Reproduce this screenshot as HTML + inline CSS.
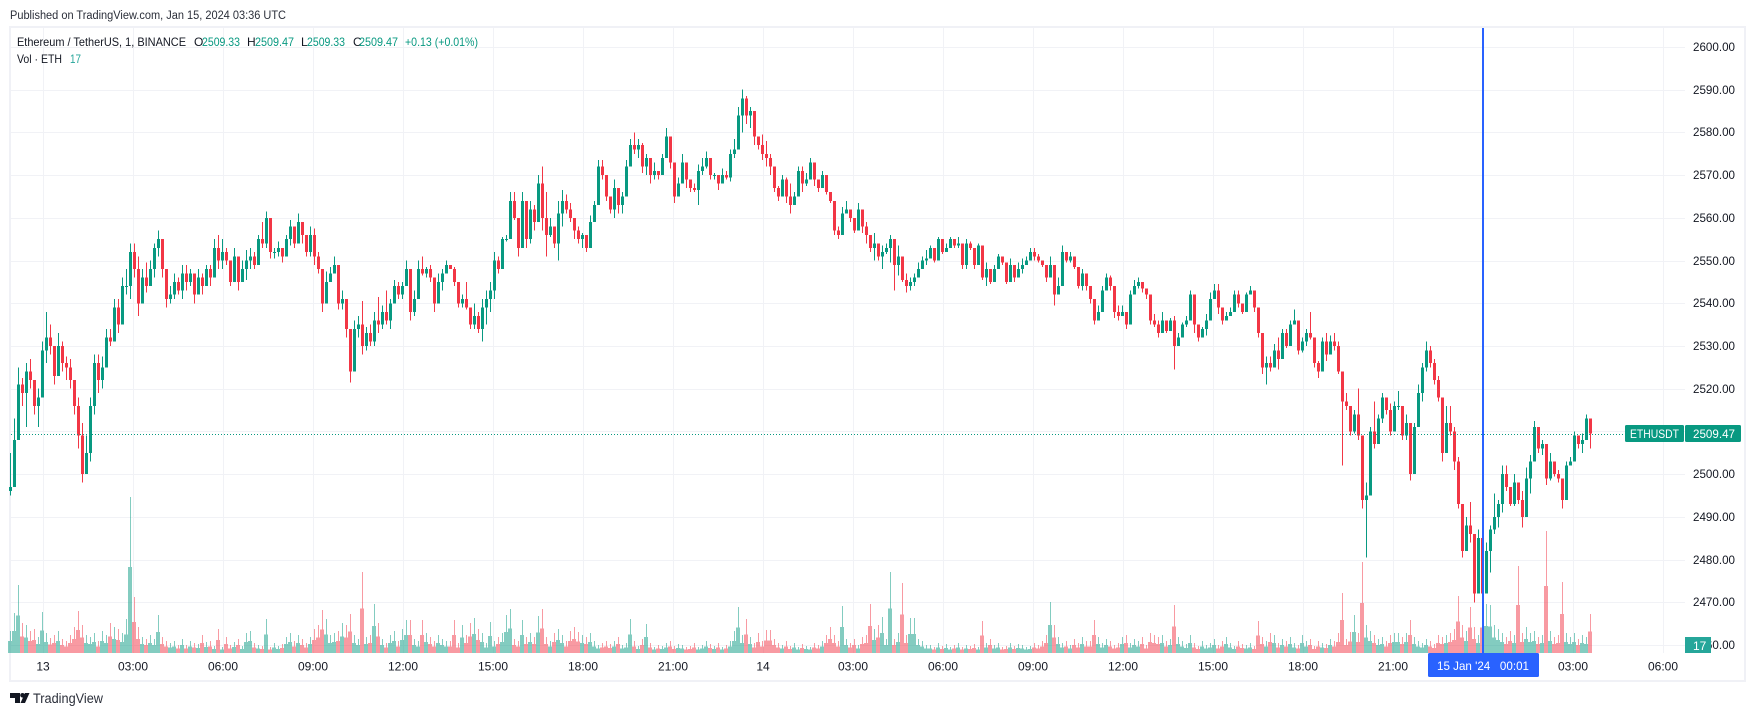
<!DOCTYPE html>
<html lang="en">
<head>
<meta charset="utf-8">
<title>ETHUSDT chart</title>
<style>
html,body{margin:0;padding:0;background:#fff;width:1755px;height:716px;overflow:hidden}
svg{display:block;font-family:"Liberation Sans",sans-serif}
</style>
</head>
<body>
<svg id="chart" xmlns="http://www.w3.org/2000/svg" width="1755" height="716" viewBox="0 0 1755 716">
  <text x="10" y="19" font-size="11.5" fill="#2a2e39" textLength="276" lengthAdjust="spacingAndGlyphs">Published on TradingView.com, Jan 15, 2024 03:36 UTC</text>
  <rect x="10" y="27" width="1735" height="654" fill="#ffffff" stroke="#f0f1f6" stroke-width="2"/>
  <g id="grid" shape-rendering="crispEdges"></g>
  <g id="volumes" shape-rendering="crispEdges"></g>
  <g id="candles" shape-rendering="crispEdges"></g>
  <g id="lastline"></g>
  <rect x="1482" y="28" width="2" height="625" fill="#2962ff" shape-rendering="crispEdges"/>
  <g id="timeaxis"></g>
  <g id="priceaxis"></g>

  <g font-size="12">
    <text x="17" y="46" fill="#131722" textLength="169" lengthAdjust="spacingAndGlyphs">Ethereum / TetherUS, 1, BINANCE</text>
    <text x="194" y="46" fill="#131722">O</text>
    <text x="202" y="46" fill="#089981" textLength="38" lengthAdjust="spacingAndGlyphs">2509.33</text>
    <text x="247" y="46" fill="#131722">H</text>
    <text x="255" y="46" fill="#089981" textLength="39" lengthAdjust="spacingAndGlyphs">2509.47</text>
    <text x="301" y="46" fill="#131722">L</text>
    <text x="307" y="46" fill="#089981" textLength="38" lengthAdjust="spacingAndGlyphs">2509.33</text>
    <text x="353" y="46" fill="#131722">C</text>
    <text x="359" y="46" fill="#089981" textLength="39" lengthAdjust="spacingAndGlyphs">2509.47</text>
    <text x="405" y="46" fill="#089981" textLength="73" lengthAdjust="spacingAndGlyphs">+0.13 (+0.01%)</text>
  </g>
  <g font-size="12">
    <text x="17" y="63" fill="#131722" textLength="45" lengthAdjust="spacingAndGlyphs">Vol · ETH</text>
    <text x="70" y="63" fill="#26a69a" textLength="11" lengthAdjust="spacingAndGlyphs">17</text>
  </g>

  <rect x="1625" y="425" width="59" height="17" rx="1.5" fill="#089981"/>
  <text x="1630" y="438" font-size="12" fill="#ffffff" textLength="49" lengthAdjust="spacingAndGlyphs">ETHUSDT</text>
  <rect x="1685" y="425" width="56" height="17" rx="1.5" fill="#089981"/>
  <text x="1693" y="438" font-size="12" font-weight="normal" fill="#ffffff" textLength="42" lengthAdjust="spacingAndGlyphs">2509.47</text>
  <rect x="1685" y="637" width="26" height="16" fill="#26a69a"/>
  <text x="1693" y="650" font-size="12" fill="#ffffff">17</text>

  <rect x="1428" y="653" width="111" height="24" rx="1.5" fill="#2962ff"/>
  <text x="1437" y="670" font-size="12" fill="#ffffff" textLength="92" lengthAdjust="spacingAndGlyphs" xml:space="preserve">15 Jan '24   00:01</text>

  <g>
    <polygon points="10,693 20,693 20,703 15,703 15,698 10,698" fill="#131722"/>
    <circle cx="22.5" cy="695.3" r="2.3" fill="#131722"/>
    <polygon points="20.5,703 25,693 29.5,693 25,703" fill="#131722"/>
    <text x="33" y="703" font-size="13.5" fill="#2a2e39" textLength="70" lengthAdjust="spacingAndGlyphs">TradingView</text>
  </g>
</svg>
<script>
// One bar per 8 minutes, first bar at 22:54 on 12 Jan (minute -66 from 13 Jan 00:00).
const firstBarMinute = -66;
const barStepMinutes = 8;
const highs = [
2505,2513,2525,2522.5,2526,2527,2520,2520,2531,2538,
2535,2528,2533,2531,2527.5,2527,2522,2518,2512,2509,
2518,2528,2528,2527.5,2534,2534,2541,2541,2546,2548,
2554,2554,2551,2548,2549.5,2550,2554,2557,2555,2546,
2544,2547,2546,2549,2549,2548,2547,2548,2547,2549,
2549,2555,2556,2555,2553,2548,2553,2550,2550,2552.5,
2553,2552,2556,2559,2561.5,2556,2553,2554.5,2552,2556,
2559.5,2557,2561,2557.5,2556,2558,2557.5,2552,2546.5,2547.5,
2548.5,2551,2544.5,2543,2538.5,2530,2536,2537,2540.5,2534.5,
2535,2538,2541.5,2539.5,2543,2541,2545.5,2545,2545,2550,
2545,2543,2550,2551,2548.5,2549,2545,2547,2548,2550,
2549,2548.5,2543,2542,2545,2537,2540,2538,2541,2543,
2545,2552,2551,2555.5,2556,2566,2566,2557,2566,2558,
2564,2563,2570,2572,2566,2560,2558,2564,2566.5,2565.5,
2563.5,2560,2558,2556.5,2556,2560.5,2564,2573.5,2573.5,2569,
2564,2569,2566.5,2566,2573.5,2578.5,2580,2578.5,2577.5,2575,
2573,2573,2571,2575,2581,2578,2569,2569.5,2575,2571,
2568,2568,2572.5,2574,2575.5,2573.5,2570.5,2570,2571.5,2571,
2576,2578.5,2586,2590,2588.5,2586,2583,2578,2579.5,2578,
2575,2570.5,2567.5,2570,2569.5,2568,2566,2572,2572,2570.5,
2574,2573,2569,2571,2569,2565.5,2559.5,2558,2562.5,2564,
2561.5,2559.5,2563.5,2560,2559,2555.5,2556.5,2553.5,2553.5,2554,
2556,2554,2553.5,2546,2547,2546,2547,2549.5,2551,2552.5,
2553.5,2552,2555.5,2553,2554,2555.5,2554,2555.5,2551.5,2555,
2554.5,2553,2554,2549,2549.5,2546,2549,2551.5,2551,2548.5,
2550.5,2548,2549.5,2550.5,2551,2553,2553,2551.5,2550,2548.5,
2551,2547.5,2546,2553.5,2552,2552,2549.5,2546,2548,2546,
2543.5,2539.5,2539.5,2544,2547,2546.5,2540,2539.5,2539.5,2537,
2543,2545.5,2546,2545,2543,2539.5,2537.5,2536,2538,2534.5,
2536.5,2537,2533,2535.5,2537,2543,2537.5,2535,2534.5,2537.5,
2542.5,2544.5,2544.5,2539,2538,2539,2543,2543,2540,2542.5,
2544,2540.5,2537,2532,2527.5,2527.5,2530.5,2532,2534,2534,
2536,2538.5,2534.5,2532,2534,2538,2529,2526.5,2532,2533,
2532.5,2533,2531,2524,2519,2515,2515,2520,2506,2498,
2511,2517,2514,2519,2518,2516.5,2517,2519.5,2514.5,2514,
2509,2512,2521,2526,2531,2530,2527,2523,2516,2516,
2516,2511,2504,2490.5,2490,2493.5,2481.5,2487,2478,2484,
2488,2495.5,2494,2502,2502,2497,2500,2495.5,2496,2501.5,
2504.5,2512.5,2510,2508,2504,2505,2502,2501,2498.5,2503,
2504,2510,2508.5,2509.5,2514,2511
];
const lows = [
2495,2497,2510,2516,2511,2520,2514,2511,2520,2526,
2528,2521,2524,2524,2522,2520,2514,2506,2498,2500,
2503,2514,2519,2520,2527,2530,2531,2533,2537,2542,
2541,2546,2537,2540,2542.5,2544,2546,2551,2546,2539,
2540,2541,2542,2541,2543,2544,2540,2542,2542,2545,
2544,2546,2548,2548,2549,2544,2547,2543,2545.5,2545.5,
2548,2548,2551,2553,2553,2550.5,2550.5,2551,2549.5,2551,
2553.5,2553,2555,2554,2551,2551,2549,2547,2538,2540,
2545,2547,2538.5,2538.5,2532,2521.5,2527,2532,2528,2529,
2530,2530,2533,2534,2535,2534,2541,2541,2541,2545,
2536,2537,2545,2546.5,2546,2545,2538,2541.5,2543,2547,
2548,2544,2539,2539,2538.5,2534,2534,2533,2531,2535,
2538,2541,2547,2550,2554.5,2559,2559.5,2551,2559,2553,
2554,2557,2561,2557,2551,2555.5,2553,2550,2558,2561,
2559,2555,2554,2553,2552,2554,2561,2565,2569,2564,
2561,2560,2561,2561,2566.5,2575,2575,2574,2570.5,2570,
2568,2569,2569,2571,2576,2571.5,2563.5,2565,2571,2567,
2566,2566,2563,2570,2571.5,2569,2569,2566.5,2569,2569,
2568.5,2574,2578.5,2580,2582,2581,2577,2576,2573.5,2572,
2570,2566,2564,2567.5,2563.5,2561,2563,2567,2566,2567.5,
2572,2567.5,2566,2568.5,2565.5,2563.5,2556,2555,2556.5,2561,
2559,2556.5,2559,2556.5,2554,2552,2550,2550,2548,2551.5,
2549.5,2543,2546.5,2545,2542.5,2543,2544,2546.5,2548,2549,
2551.5,2549.5,2552.5,2551.5,2552.5,2554,2553,2553,2548,2548,
2552.5,2548,2553,2545.5,2544,2544.5,2546.5,2549,2549,2544.5,
2546,2545,2547,2547,2549,2551,2550,2549.5,2548.5,2545,
2547.5,2539.5,2542,2545.5,2549.5,2549.5,2548,2543.5,2543,2543,
2540,2535,2537,2540,2543,2543,2536.5,2536,2537,2534,
2539,2542.5,2543.5,2542.5,2541,2535,2534.5,2532,2533,2533,
2534.5,2524.5,2530,2533,2534.5,2536.5,2533,2531,2532,2532.5,
2537,2541,2537.5,2535,2536.5,2537,2539.5,2539,2537.5,2541,
2542,2538,2532,2523.5,2521,2524,2526,2524.5,2529,2529.5,
2533,2535,2528,2528.5,2530,2531.5,2525,2522.5,2524.5,2526.5,
2529.5,2529,2523.5,2502,2515,2509,2509.5,2508,2492,2480.5,
2505.5,2506,2510,2512,2514,2509,2513.5,2515,2508,2508,
2498.5,2506,2512,2517,2524,2525,2521,2517,2503,2509,
2509,2501,2492,2480.5,2484,2484,2470,2478,2470.5,2475,
2477,2486,2487.5,2491,2496,2492.5,2492.5,2493,2487.5,2492.5,
2495.5,2506.5,2505,2504.5,2497.5,2498.5,2499.5,2498,2492,2497,
2502,2504,2506,2505,2509,2506
];
const closes = [
2497,2508,2521,2519,2524,2522,2516,2518,2529,2532,
2530,2523,2530,2526,2525,2522,2516,2509,2500,2505,
2516,2526,2522,2525,2532,2531,2539,2535,2544,2544,
2552,2548,2540,2546,2544,2548,2553,2555,2548,2541,
2542,2545,2543,2547,2545,2547,2542,2546,2544,2548,
2546,2553,2550,2552,2550,2545,2551,2545,2548,2550,
2551,2549,2555,2554,2560,2552,2552,2553,2551,2555,
2558,2554,2559,2556,2552,2556,2551,2548,2540,2545,
2547,2549,2540,2541,2534,2524,2534,2535,2530,2533,
2531,2536,2535,2538,2536,2540,2544,2542,2544,2548,
2538,2541,2548,2547,2548,2546,2540,2545,2547,2549,
2548,2545,2540,2541,2539,2535,2537,2534,2539,2541,
2543,2550,2548,2555,2555,2564,2560,2553,2564,2555,
2562,2559,2568,2560,2556,2558,2554,2561,2564,2562,
2560,2557,2555,2556,2553,2559,2563,2572,2570,2565,
2562,2567,2563,2565,2572,2577,2576,2577,2572,2574,
2570,2571,2570,2574,2579,2573,2565,2568,2573,2569,
2567,2566.5,2571,2572,2574,2570,2570,2568,2570,2569.5,
2575,2576,2584,2588,2584,2585,2579,2577,2575,2574,
2572,2567,2565,2569,2565,2563,2565,2571,2568,2569,
2573,2569,2567,2570,2566,2564,2557,2556,2561,2562,
2560,2557,2562,2558,2556,2553,2554,2551,2552,2553,
2555,2549,2551,2545.5,2544,2545,2546,2548,2550,2550.5,
2553,2550,2555,2552,2553,2555,2553.5,2554,2549,2554,
2553,2549,2553.5,2546,2548,2545,2548,2551,2549.5,2545,
2549,2546,2548,2549,2550,2552,2551,2550,2549,2546,
2549,2542,2544,2552,2550,2551,2548.5,2544,2547,2544,
2541,2536,2538,2543,2546,2544,2538,2537,2538,2535,
2542,2544,2545,2543.5,2542,2536,2535,2533,2536,2533.5,
2536,2530,2532,2535,2536,2542,2535,2532,2534,2536,
2541,2543,2539,2536,2537,2538,2542,2540,2538,2542,
2543,2539,2533,2525,2526,2525,2529,2527,2533,2530,
2535,2536,2529,2531,2533,2532,2526,2524,2531,2528,
2531,2530,2524,2517,2516,2510,2514,2509,2494,2495,
2510,2507,2513,2518,2515,2510,2516,2516,2509,2512,
2500,2511,2519,2525,2529,2526,2522,2518,2505,2512,
2510,2503,2493,2482,2488,2486,2472,2485,2472,2482,
2487,2490,2493,2500,2497,2493,2498,2494,2490,2499,
2503,2511,2506,2507,2499,2503,2500,2499,2494,2502,
2503,2509,2507,2508,2513,2509.47
];
const volumes = [
47,85,145,64,60,47,51,34,87,43,
32,38,47,30,26,38,55,89,60,38,
34,43,26,47,38,64,55,51,43,72,
332,119,55,34,30,38,30,81,34,26,
21,26,17,30,17,26,21,19,38,23,
26,15,51,13,34,17,23,30,15,43,
47,21,17,15,72,13,21,15,19,34,
43,26,38,30,21,34,51,60,91,72,
38,43,47,64,60,83,38,30,172,34,
38,104,64,30,21,38,47,26,51,70,
70,30,26,70,43,34,26,38,30,26,
26,70,21,60,38,64,74,51,43,21,
66,26,34,43,81,94,30,26,70,34,
43,34,79,94,34,26,43,51,38,26,
47,55,45,38,34,43,26,17,21,26,
19,26,34,17,21,72,26,15,30,62,
21,13,17,15,21,26,15,19,17,13,
15,21,13,17,26,19,15,21,13,17,
26,47,98,38,72,34,21,43,26,49,
49,30,21,17,26,15,21,13,19,15,
13,21,17,26,38,55,38,26,100,30,
21,30,17,34,38,104,51,60,77,30,
172,30,43,149,38,74,74,30,26,17,
17,13,21,15,19,13,17,21,13,17,
15,19,13,68,21,30,17,21,13,15,
21,15,19,17,13,15,21,17,26,38,
109,60,34,21,26,17,30,21,34,26,
26,70,34,21,30,26,17,21,34,38,
21,30,26,34,17,43,38,34,38,26,
30,102,34,26,19,38,21,15,26,17,
21,30,17,26,34,21,15,26,19,17,
21,15,68,34,26,43,38,21,30,26,
34,21,17,38,26,30,15,26,21,19,
30,26,43,128,30,45,81,43,194,60,
47,38,30,34,26,38,43,43,34,43,
70,34,26,21,30,26,19,38,34,38,
43,51,121,60,47,98,55,38,98,104,
102,60,51,43,34,47,38,185,43,55,
43,47,34,38,260,47,34,38,151,43,
34,43,30,38,34,83
];
const priceTicks = [2600,2590,2580,2570,2560,2550,2540,2530,2520,2510,2500,2490,2480,2470,2460];
const timeTickLabels = ["13","03:00","06:00","09:00","12:00","15:00","18:00","21:00","14","03:00","06:00","09:00","12:00","15:00","18:00","21:00","15","03:00","06:00"];
const timeTickStepMinutes = 180;
const lastPrice = 2509.47;

const UP = '#089981';
const DOWN = '#f23645';
const UP_VOL = 'rgba(8,153,129,0.5)';
const DOWN_VOL = 'rgba(242,54,69,0.5)';
const NS = 'http://www.w3.org/2000/svg';

function xAt(minute) { return 43 + minute * 0.5; }
function yAt(price) { return 47 + (2600 - price) * (598 / 140); }
function volH(volume) { return volume * 0.47; }

const gridG = document.getElementById('grid');
const timeG = document.getElementById('timeaxis');
const priceG = document.getElementById('priceaxis');
const volG = document.getElementById('volumes');
const candleG = document.getElementById('candles');
const lastG = document.getElementById('lastline');

priceTicks.forEach(function (p) {
  const y = Math.round(yAt(p));
  const line = document.createElementNS(NS, 'rect');
  
  
  line.setAttribute('x', 11);
  line.setAttribute('y', y);
  line.setAttribute('width', 1674);
  line.setAttribute('height', 1);
  line.setAttribute('fill', '#f1f2f6');
  gridG.appendChild(line);
  const label = document.createElementNS(NS, 'text');
  
  
  label.setAttribute('x', 1693);
  label.setAttribute('y', y + 4);
  label.setAttribute('font-size', '12');
  label.setAttribute('fill', '#131722');
  label.setAttribute('textLength', '42');
  label.setAttribute('lengthAdjust', 'spacingAndGlyphs');
  label.textContent = p.toFixed(2);
  priceG.appendChild(label);
});

timeTickLabels.forEach(function (t, i) {
  const x = Math.round(xAt(i * timeTickStepMinutes));
  const line = document.createElementNS(NS, 'rect');
  
  
  line.setAttribute('x', x);
  line.setAttribute('y', 28);
  line.setAttribute('width', 1);
  line.setAttribute('height', 625);
  line.setAttribute('fill', '#f1f2f6');
  gridG.appendChild(line);
  const label = document.createElementNS(NS, 'text');
  
  
  label.setAttribute('x', x);
  label.setAttribute('y', 670.5);
  label.setAttribute('text-anchor', 'middle');
  label.setAttribute('font-size', '12');
  label.setAttribute('fill', '#131722');
  label.textContent = t;
  timeG.appendChild(label);
});

highs.forEach(function (h, i) {
  const minute = firstBarMinute + i * barStepMinutes;
  const x = Math.round(xAt(minute));
  const close = closes[i];
  const open = i === 0 ? lows[0] + 1 : closes[i - 1];
  const up = close >= open;

  const vh = volH(volumes[i]);
  const volBase = document.createElementNS(NS, 'rect');
  
  
  volBase.setAttribute('x', x - 2);
  volBase.setAttribute('y', 653 - vh * 0.55);
  volBase.setAttribute('width', 4);
  volBase.setAttribute('height', vh * 0.55);
  volBase.setAttribute('fill', up ? UP_VOL : DOWN_VOL);
  volG.appendChild(volBase);

  const vol = document.createElementNS(NS, 'rect');
  
  
  vol.setAttribute('x', x);
  vol.setAttribute('y', 653 - vh);
  vol.setAttribute('width', 1);
  vol.setAttribute('height', vh * 0.45);
  vol.setAttribute('fill', up ? UP_VOL : DOWN_VOL);
  volG.appendChild(vol);

  const top = yAt(h);
  const wick = document.createElementNS(NS, 'rect');
  
  
  wick.setAttribute('x', x);
  wick.setAttribute('y', top);
  wick.setAttribute('width', 1);
  wick.setAttribute('height', yAt(lows[i]) - top);
  wick.setAttribute('fill', up ? UP : DOWN);
  candleG.appendChild(wick);

  const bt = yAt(Math.max(open, close));
  const body = document.createElementNS(NS, 'rect');
  
  
  body.setAttribute('x', x - 1);
  body.setAttribute('y', bt);
  body.setAttribute('width', 3);
  body.setAttribute('height', Math.max(1, yAt(Math.min(open, close)) - bt));
  body.setAttribute('fill', up ? UP : DOWN);
  candleG.appendChild(body);
});

const dotted = document.createElementNS(NS, 'line');


dotted.setAttribute('x1', 11);
dotted.setAttribute('x2', 1625);
dotted.setAttribute('y1', Math.round(yAt(lastPrice)) + 0.5);
dotted.setAttribute('y2', Math.round(yAt(lastPrice)) + 0.5);
dotted.setAttribute('stroke', UP);
dotted.setAttribute('stroke-width', 1);
dotted.setAttribute('stroke-dasharray', '1 2');
lastG.appendChild(dotted);
</script>
</body>
</html>
